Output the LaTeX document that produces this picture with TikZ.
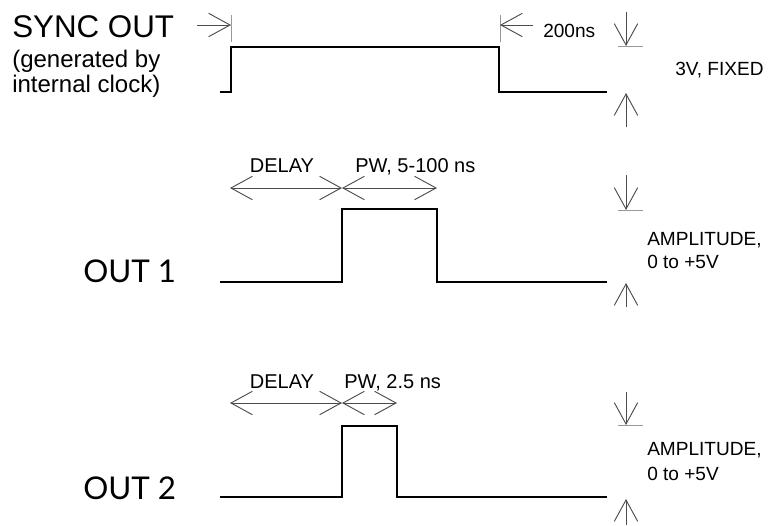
\documentclass[tikz,border=0pt]{standalone}
\usepackage{fontspec}
\setmainfont{Liberation Sans}
\newfontfamily\latofont{Lato}
\usetikzlibrary{arrows.meta}

\tikzset{
  wave/.style = {line width = 2.2pt, line join = miter},
  dim/.style = {draw = black!70, line width = 0.7pt},
  tickline/.style = {draw = black!40, line width = 0.7pt},
  lbl/.style = {font = \fontsize{14.3}{16}\selectfont, inner sep = 0pt, anchor = base west},
  mid/.style = {font = \fontsize{15}{17}\selectfont, inner sep = 0pt, anchor = base west},
  side/.style = {font = \fontsize{18}{20}\selectfont, inner sep = 0pt, anchor = base west},
  big/.style = {font = \fontsize{23.5}{26}\selectfont, inner sep = 0pt, anchor = base west}
}

\begin{document}
\begin{tikzpicture}[x = 0.75pt, y = -0.75pt, >={Straight Barb[length = 16pt, width = 17.5pt]}]
\useasboundingbox (0,0) rectangle (771,525);

\node[big] (sync) at (12,37) {SYNC OUT};
\node[side] (gen1) at (12,67) {(generated by};
\node[side] (gen2) at (12,92) {internal clock)};
\node[lbl] (t200) at (543,37) {200ns};
\node[lbl] (fixed) at (675,75) {3V, FIXED};

\draw [wave] (220,92) -- (231,92) -- (231,47) -- (499,47) -- (499,92) -- (607,92);

\coordinate (s0) at (197,25);
\coordinate (s1) at (231,25);
\coordinate (s2) at (500,25);
\coordinate (s3) at (533,25);
\draw [tickline] (231,15) -- (231,42);
\draw [tickline] (500,15) -- (500,42);
\draw [dim, ->] (s0) -- (s1);
\draw [dim, ->] (s3) -- (s2);

\coordinate (a0) at (626,12);
\coordinate (a1) at (626,46);
\coordinate (a2) at (626,93);
\coordinate (a3) at (626,127);
\draw [tickline] (618,46) -- (643,46);
\draw [dim, ->] (a0) -- (a1);
\draw [dim, ->] (a3) -- (a2);

\node[big, font = \latofont\fontsize{23.5}{26}\selectfont] (out1) at (83,282) {OUT 1};
\node[mid, anchor = base] (delay1) at (282,172) {DELAY};
\node[mid] (pw1) at (355,172) {PW, 5-100 ns};
\node[lbl] (amp1) at (647,245) {AMPLITUDE,};
\node[lbl] (rng1) at (647,268) {0 to +5V};

\draw [wave] (220,282) -- (342,282) -- (342,209) -- (437,209) -- (437,282) -- (607,282);

\coordinate (d10) at (230,188);
\coordinate (d11) at (342,188);
\coordinate (d12) at (437,188);
\draw [dim, <->] (d10) -- (d11);
\draw [dim, <->] (d11) -- (d12);

\coordinate (b0) at (626,175);
\coordinate (b1) at (626,210);
\coordinate (b2) at (626,283);
\coordinate (b3) at (626,307);
\draw [tickline] (618,210) -- (643,210);
\draw [dim, ->] (b0) -- (b1);
\draw [dim, ->] (b3) -- (b2);

\node[big, font = \latofont\fontsize{23.5}{26}\selectfont] (out2) at (83,499) {OUT 2};
\node[mid, anchor = base] (delay2) at (282,388) {DELAY};
\node[mid] (pw2) at (344,388) {PW, 2.5 ns};
\node[lbl] (amp2) at (647,455) {AMPLITUDE,};
\node[lbl] (rng2) at (647,480) {0 to +5V};

\draw [wave] (220,497) -- (342,497) -- (342,426) -- (397,426) -- (397,497) -- (607,497);

\coordinate (d20) at (230,403);
\coordinate (d21) at (342,403);
\coordinate (d22) at (397,403);
\draw [dim, <->] (d20) -- (d21);
\draw [dim, <->] (d21) -- (d22);

\coordinate (c0) at (626,392);
\coordinate (c1) at (626,425);
\coordinate (c2) at (626,499);
\coordinate (c3) at (626,525);
\draw [tickline] (618,425) -- (643,425);
\draw [dim, ->] (c0) -- (c1);
\draw [dim, ->] (c3) -- (c2);
\end{tikzpicture}
\end{document}
